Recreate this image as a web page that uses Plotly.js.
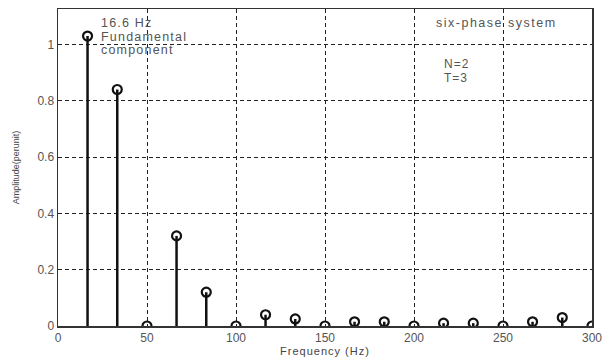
<!DOCTYPE html>
<html>
<head>
<meta charset="utf-8">
<script src="https://cdn.plot.ly/plotly-3.0.1.min.js"></script>
<style>html,body{margin:0;padding:0;background:#fff;}#chart{width:603px;height:359px;}</style>
</head>
<body>
<div id="chart"></div>
<script>
var freqs = [16.6, 33.3, 50, 66.6, 83.3, 100, 116.6, 133.3, 150, 166.6, 183.3, 200, 216.6, 233.3, 250, 266.6, 283.3, 300];
var amps  = [1.03, 0.84, 0.0, 0.32, 0.12, 0.0, 0.04, 0.025, 0.0, 0.015, 0.015, 0.0, 0.01, 0.01, 0.0, 0.015, 0.03, 0.0];
var xTicks = [0, 50, 100, 150, 200, 250, 300];
var yTicks = [0, 0.2, 0.4, 0.6, 0.8, 1];
var yTickText = ['0', '0.2', '0.4', '0.6', '0.8', '1'];
var noteLines = ['16.6 Hz', 'Fundamental', 'component'];
var infoLines = ['N=2', 'T=3'];

var stemX = [], stemY = [];
for (var i = 0; i < freqs.length; i++) {
  stemX.push(freqs[i], freqs[i], null);
  stemY.push(0, amps[i], null);
}

function sp(t, ls) { return '<span style="letter-spacing:' + ls + 'px">' + t + '</span>'; }

var fam = 'Liberation Sans, Arial, sans-serif';

var traces = [
  {x: stemX, y: stemY, mode: 'lines', line: {color: '#111', width: 2.5}, hoverinfo: 'skip', showlegend: false},
  {x: freqs, y: amps, mode: 'markers', marker: {symbol: 'circle-open', color: '#111', size: 9, line: {width: 2.2, color: '#111'}}, showlegend: false}
];

var annotations = [];
var noteY = [0.957, 0.913, 0.871];
noteLines.forEach(function (t, k) {
  annotations.push({x: 23, y: noteY[k], xref: 'x', yref: 'paper', xanchor: 'left', yanchor: 'middle', showarrow: false,
    text: sp(t, 1.2), font: {size: 12.5, color: '#555'}});
});
annotations.push({x: 246.5, y: 0.956, xref: 'x', yref: 'paper', xanchor: 'center', yanchor: 'middle', showarrow: false,
  text: sp('six-phase system', 1.5), font: {size: 12.5, color: '#555'}});
var infoY = [0.828, 0.782];
infoLines.forEach(function (t, k) {
  annotations.push({x: 216, y: infoY[k], xref: 'x', yref: 'paper', xanchor: 'left', yanchor: 'middle', showarrow: false,
    text: sp(t, 1), font: {size: 12, color: '#555'}});
});

var layout = {
  width: 603, height: 359,
  margin: {l: 58, r: 11, t: 9, b: 33},
  paper_bgcolor: '#fff', plot_bgcolor: '#fff',
  font: {family: fam, size: 11, color: '#333'},
  xaxis: {
    range: [0, 300], tickvals: xTicks, ticktext: xTicks.map(String),
    showgrid: true, gridcolor: '#222', griddash: '4px,3px', gridwidth: 1,
    zeroline: false, showline: true, linecolor: '#333', linewidth: 1.5, mirror: true,
    ticks: '', ticklen: 0, tickfont: {size: 12, color: '#555'},
    title: {text: sp('Frequency (Hz)', 1), font: {size: 11, color: '#444'}, standoff: 2}
  },
  yaxis: {
    range: [0, 1.126], tickvals: yTicks, ticktext: yTickText,
    showgrid: true, gridcolor: '#222', griddash: '4px,3px', gridwidth: 1,
    zeroline: false, showline: true, linecolor: '#333', linewidth: 1.5, mirror: true,
    ticks: '', ticklen: 0, tickfont: {size: 12, color: '#555'},
    title: {text: 'Amplitude(perunit)', font: {size: 9, color: '#444'}, standoff: 16}
  },
  annotations: annotations
};

Plotly.newPlot('chart', traces, layout, {staticPlot: true, displayModeBar: false});
</script>
</body>
</html>
